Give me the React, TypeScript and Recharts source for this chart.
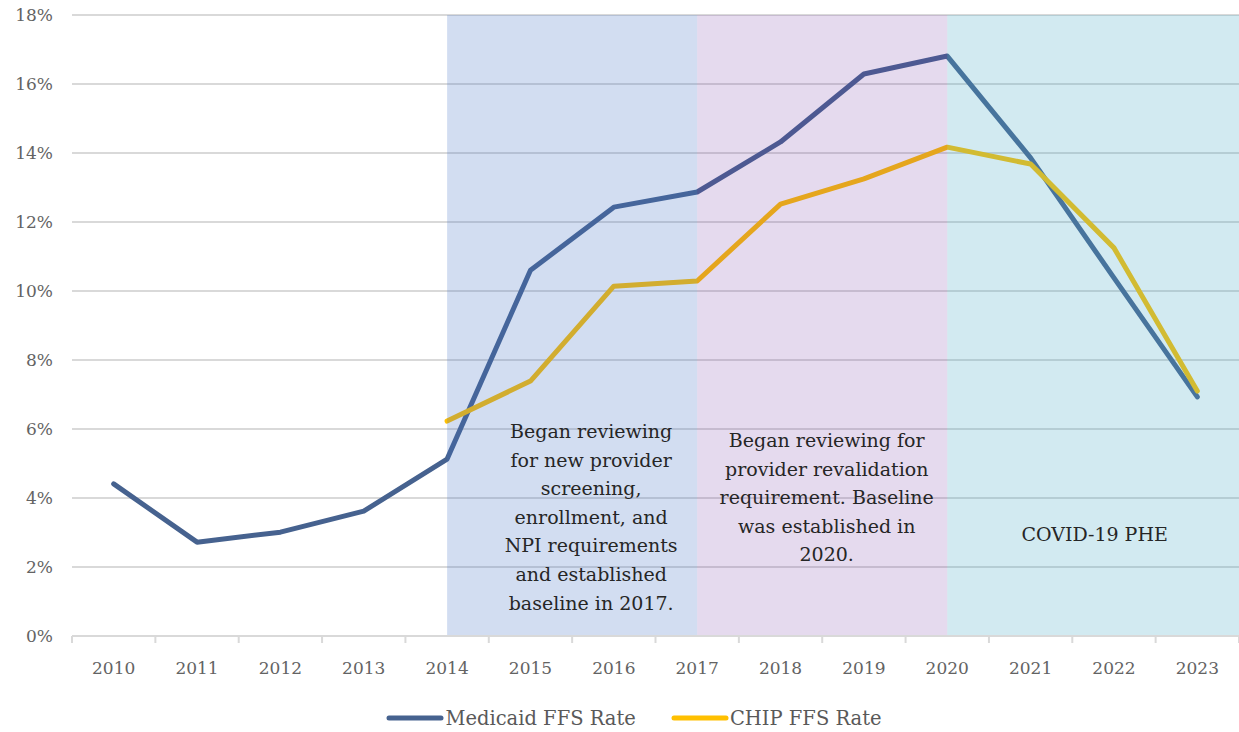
import React from 'react';
import { LineChart, Line, XAxis, YAxis, CartesianGrid, ReferenceArea, Legend } from 'recharts';

const years = [2010, 2011, 2012, 2013, 2014, 2015, 2016, 2017, 2018, 2019, 2020, 2021, 2022, 2023];
const medicaidRate = [4.41, 2.72, 3.01, 3.62, 5.13, 10.6, 12.43, 12.87, 14.32, 16.29, 16.81, 13.86, 10.38, 6.93];
const chipRate = [null, null, null, null, 6.23, 7.39, 10.14, 10.29, 12.52, 13.25, 14.17, 13.68, 11.25, 7.1];
const yTicks = [0, 2, 4, 6, 8, 10, 12, 14, 16, 18];

const annoBlue = ['Began reviewing', 'for new provider', 'screening,', 'enrollment, and', 'NPI requirements', 'and established', 'baseline in 2017.'];
const annoPurple = ['Began reviewing for', 'provider revalidation', 'requirement. Baseline', 'was established in', '2020.'];
const annoTeal = ['COVID-19 PHE'];

const seriesNames = ['Medicaid FFS Rate', 'CHIP FFS Rate'];
const seriesColors = ['#46628f', '#ffc000'];

const data = years.map((year, i) => ({ year, medicaid: medicaidRate[i], chip: chipRate[i] }));
const xMin = years[0] - 0.5;
const xMax = years[years.length - 1] + 0.5;
const boundaries = [...years.map((y) => y - 0.5), xMax];

const FONT = '"DejaVu Serif", serif';

const renderAnno = (lines: string[], dx: number, top: number) => (props: any) => {
  const vb = props.viewBox || {};
  const cx = vb.x + vb.width / 2 + dx;
  return (
    <text x={cx} y={vb.y + top} textAnchor="middle" fontFamily={FONT} fontSize={19} fill="#262626">
      {lines.map((l, i) => (
        <tspan key={i} x={cx} dy={i === 0 ? 0 : 28.6}>
          {l}
        </tspan>
      ))}
    </text>
  );
};

const BoundaryTick = (props: any) => {
  const { x, y } = props;
  return <line x1={x} y1={y} x2={x} y2={y + 7} stroke="#d9d9d9" strokeWidth={2} />;
};

const renderLegend = () => (
  <div
    style={{
      display: 'flex',
      justifyContent: 'center',
      alignItems: 'center',
      height: 36,
      boxSizing: 'border-box',
      paddingTop: 8,
      paddingLeft: 29,
      fontFamily: FONT,
      fontSize: 19.5,
      color: '#595959',
    }}
  >
    {seriesNames.map((name, i) => (
      <div key={name} style={{ display: 'flex', alignItems: 'center', marginRight: i === 0 ? 35 : 0 }}>
        <svg width={58} height={8}>
          <line x1={3} y1={4} x2={55} y2={4} stroke={seriesColors[i]} strokeWidth={5} strokeLinecap="round" />
        </svg>
        <span style={{ marginLeft: 1 }}>{name}</span>
      </div>
    ))}
  </div>
);

export default function App() {
  return (
    <div style={{ position: 'absolute', left: 0, top: 0, width: 1239, height: 732, background: '#fff' }}>
      <LineChart width={1239} height={732} data={data} margin={{ top: 15, right: 0, bottom: 0, left: 0 }}>
        <CartesianGrid xAxisId="labels" vertical={false} stroke="#d9d9d9" strokeWidth={2} />
        <XAxis
          xAxisId="bounds"
          dataKey="year"
          type="number"
          domain={[xMin, xMax]}
          ticks={boundaries}
          interval={0}
          height={1}
          tickSize={0}
          tickMargin={0}
          tickLine={false}
          tick={<BoundaryTick />}
          axisLine={{ stroke: '#d9d9d9', strokeWidth: 2 }}
        />
        <XAxis
          xAxisId="labels"
          dataKey="year"
          type="number"
          domain={[xMin, xMax]}
          ticks={years}
          interval={0}
          height={59}
          axisLine={false}
          tickLine={false}
          tickMargin={19}
          tickFormatter={(v: number) => String(v)}
          tick={{ fill: '#636363', fontFamily: FONT, fontSize: 17 }}
        />
        <YAxis
          domain={[0, 18]}
          ticks={yTicks}
          interval={0}
          width={72}
          axisLine={false}
          tickLine={false}
          tickMargin={13}
          tickFormatter={(v: number) => `${v}%`}
          tick={{ fill: '#636363', fontFamily: FONT, fontSize: 17 }}
        />
        <Legend verticalAlign="bottom" content={renderLegend} />
        <Line
          xAxisId="labels"
          dataKey="medicaid"
          name={seriesNames[0]}
          stroke={seriesColors[0]}
          strokeWidth={5}
          strokeLinecap="round"
          strokeLinejoin="round"
          dot={false}
          activeDot={false}
          isAnimationActive={false}
        />
        <Line
          xAxisId="labels"
          dataKey="chip"
          name={seriesNames[1]}
          stroke={seriesColors[1]}
          strokeWidth={5}
          strokeLinecap="round"
          strokeLinejoin="round"
          dot={false}
          activeDot={false}
          isAnimationActive={false}
        />
        <ReferenceArea
          xAxisId="labels"
          x1={2014}
          x2={2017}
          fill="#4472c4"
          fillOpacity={0.24}
          stroke="none"
          zIndex={450}
          label={{ content: renderAnno(annoBlue, 19, 423) }}
        />
        <ReferenceArea
          xAxisId="labels"
          x1={2017}
          x2={2020}
          fill="#7030a0"
          fillOpacity={0.18}
          stroke="none"
          zIndex={450}
          label={{ content: renderAnno(annoPurple, 4.5, 432) }}
        />
        <ReferenceArea
          xAxisId="labels"
          x1={2020}
          x2={xMax}
          fill="#4bacc6"
          fillOpacity={0.25}
          stroke="none"
          zIndex={450}
          label={{ content: renderAnno(annoTeal, 1.5, 526) }}
        />
      </LineChart>
    </div>
  );
}
